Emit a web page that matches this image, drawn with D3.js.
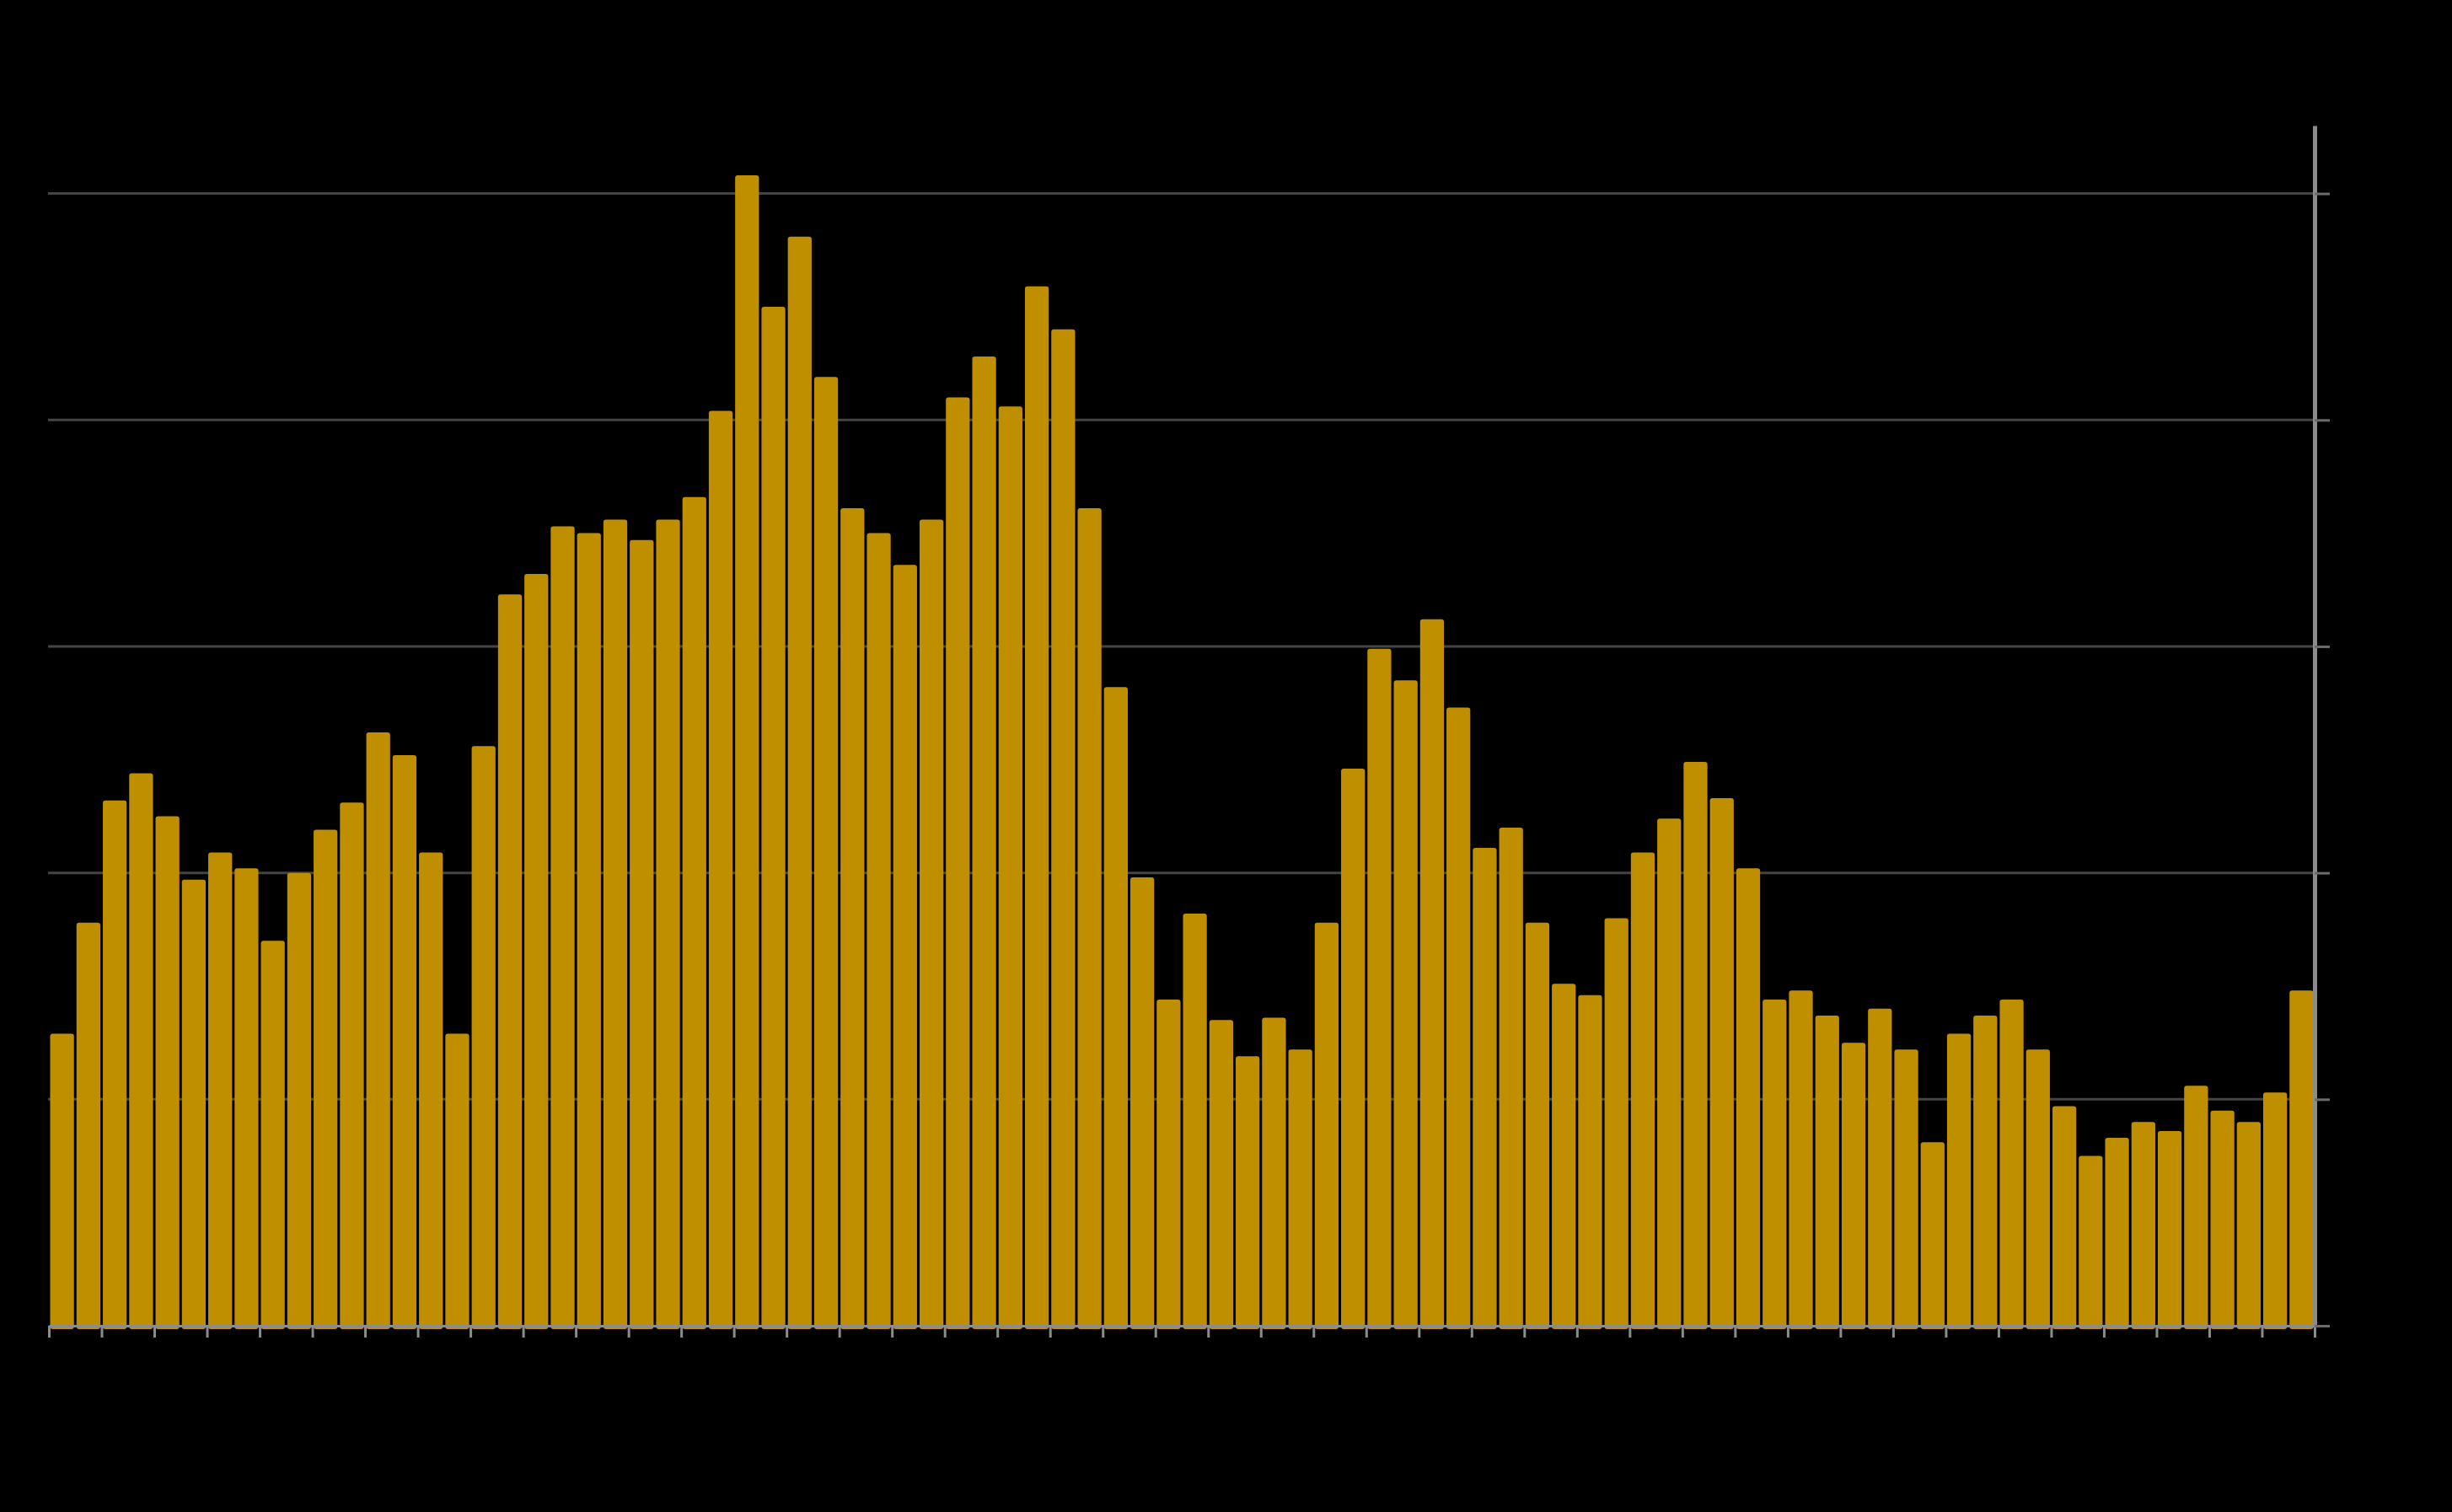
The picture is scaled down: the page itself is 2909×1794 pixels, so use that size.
<!DOCTYPE html>
<html>
<head>
<meta charset="utf-8">
<script src="https://cdn.jsdelivr.net/npm/d3@7"></script>
<style>
  html, body { margin: 0; background: #000; }
  svg { display: block; }
</style>
</head>
<body>
<script>
// one bar per period (gridline = 1 unit)
var periods = d3.range(1, 87);
var values = [
  1.29, 1.78, 2.32, 2.44, 2.25, 1.97, 2.09, 2.02, 1.70, 2.00,
  2.19, 2.31, 2.62, 2.52, 2.09, 1.29, 2.56, 3.23, 3.32, 3.53,
  3.50, 3.56, 3.47, 3.56, 3.66, 4.04, 5.08, 4.50, 4.81, 4.19,
  3.61, 3.50, 3.36, 3.56, 4.10, 4.28, 4.06, 4.59, 4.40, 3.61,
  2.82, 1.98, 1.44, 1.82, 1.35, 1.19, 1.36, 1.22, 1.78, 2.46,
  2.99, 2.85, 3.12, 2.73, 2.11, 2.20, 1.78, 1.51, 1.46, 1.80,
  2.09, 2.24, 2.49, 2.33, 2.02, 1.44, 1.48, 1.37, 1.25, 1.40,
  1.22, 0.81, 1.29, 1.37, 1.44, 1.22, 0.97, 0.75, 0.83, 0.90,
  0.86, 1.06, 0.95, 0.90, 1.03, 1.48
];
var yTicks = [0, 1, 2, 3, 4, 5];
var xTicks = d3.range(0, 87, 2);

var w = 2909;
var h = 1794;
var padLeft = 58, padRight = 2746, padTop = 149, padBottom = 1573;

var svg = d3.select('body').append('svg')
            .attr('width', w)
            .attr('height', h)
            .style('background', '#000');

var ScaleX = d3.scaleLinear()
               .domain([0, periods.length])
               .range([padLeft, padRight]);

var ScaleY = d3.scaleLinear()
               .domain([0, 5.3])
               .range([padBottom, padTop]);

// gridlines behind the bars
svg.append('g')
   .selectAll('line')
   .data(yTicks.slice(1))
   .enter()
   .append('line')
   .attr('x1', padLeft - 1)
   .attr('x2', padRight)
   .attr('y1', function(d){ return ScaleY(d); })
   .attr('y2', function(d){ return ScaleY(d); })
   .attr('stroke', '#444')
   .attr('stroke-width', 3);

svg.append('g')
   .selectAll('rect')
   .data(values)
   .enter()
   .append('rect')
   .attr('x', function(d, i){ return ScaleX(i) + 1.5; })
   .attr('width', function(d, i){ return ScaleX(i + 1) - ScaleX(i) - 3; })
   .attr('y', function(d){ return ScaleY(d); })
   .attr('height', function(d){ return padBottom + 4 - ScaleY(d); })
   .attr('rx', 3)
   .attr('fill', '#bf8f00');

var xAxis = d3.axisBottom(ScaleX)
              .tickValues(xTicks)
              .tickSize(14)
              .tickSizeOuter(0)
              .tickFormat(function(d){ return d; });

var yAxis = d3.axisRight(ScaleY)
              .tickValues(yTicks)
              .tickSize(18)
              .tickSizeOuter(0);

var gx = svg.append('g')
   .attr('transform', 'translate(0,' + padBottom + ')')
   .call(xAxis);
gx.select('.domain').attr('stroke', '#8c8c8c').attr('stroke-width', 3);
gx.selectAll('.tick line').attr('stroke', '#8c8c8c').attr('stroke-width', 3);
gx.selectAll('.tick text').attr('fill', '#000').style('font-size', '20px').style('font-family', 'Roboto');

var gy = svg.append('g')
   .attr('transform', 'translate(' + padRight + ',0)')
   .call(yAxis);
gy.select('.domain').attr('stroke', '#8c8c8c').attr('stroke-width', 5);
gy.selectAll('.tick line').attr('stroke', '#6a6a6a').attr('stroke-width', 3);
gy.selectAll('.tick text').attr('fill', '#000').style('font-size', '20px').style('font-family', 'Roboto');
</script>
</body>
</html>
